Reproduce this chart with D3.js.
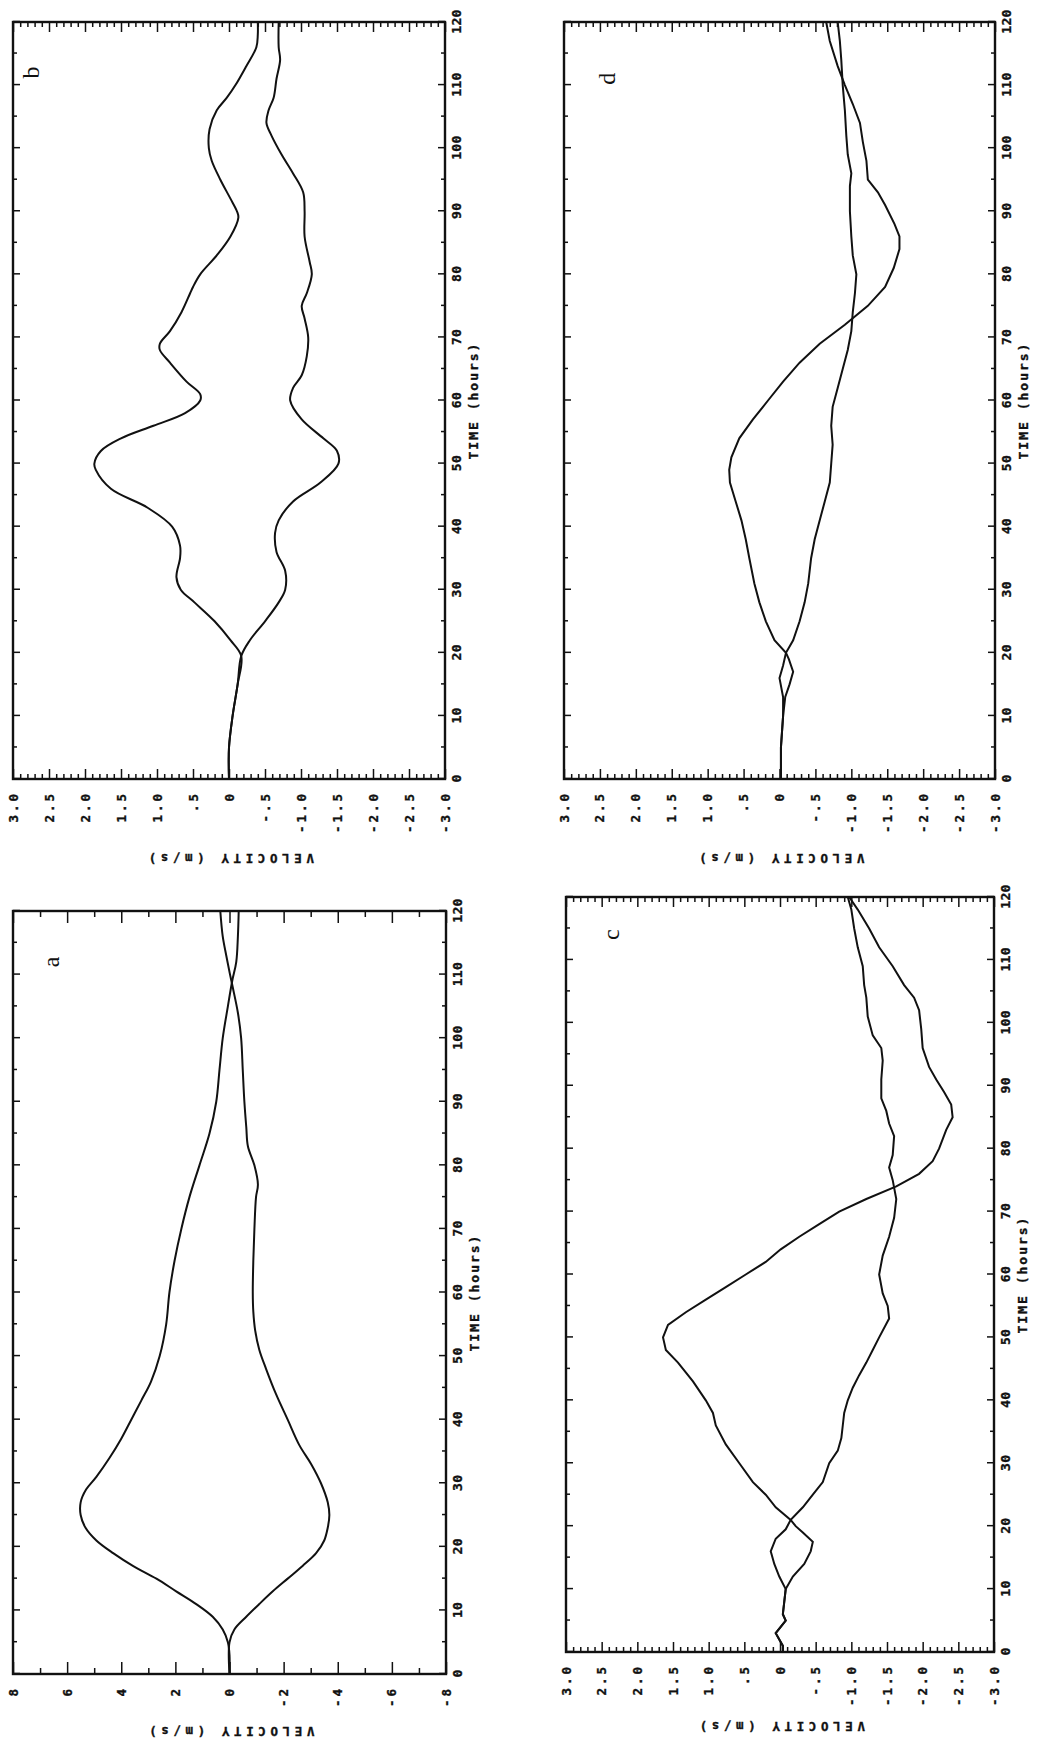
<!DOCTYPE html>
<meta charset="utf-8">
<style>
  body { margin: 0; background: #fff; }
  svg text { font-family: "DejaVu Sans Mono", monospace; font-weight: bold; fill: #111; stroke: #111; stroke-width: 0.35px; }
  .tl text { font-size: 13px; letter-spacing: 0.3px; }
  .vl text { font-size: 12.5px; letter-spacing: 3px; }
  .xlab { font-size: 13px; letter-spacing: 2px; }
  .ylab { font-size: 12.5px; letter-spacing: 4.6px; }
  .letter { font-family: "Liberation Serif", serif !important; font-weight: normal !important; font-size: 24px; stroke-width: 0 !important; }
  .tick line, .minor line { stroke: #111; stroke-width: 1.5; }
  .domain { display: none; }
</style>
<svg width="1038" height="1744"></svg>
<script src="https://d3js.org/d3.v7.min.js"></script>
<script>
// tick labels
var timeTicks = [0, 10, 20, 30, 40, 50, 60, 70, 80, 90, 100, 110, 120];
var velTicks = [3, 2.5, 2, 1.5, 1, 0.5, 0, -0.5, -1, -1.5, -2, -2.5, -3];
var velLabels = ["3.0", "2.5", "2.0", "1.5", "1.0", ".5", "0", "-.5", "-1.0", "-1.5", "-2.0", "-2.5", "-3.0"];
var velTicksA = [8, 6, 4, 2, 0, -2, -4, -6, -8];
var velLabelsA = ["8", "6", "4", "2", "0", "-2", "-4", "-6", "-8"];

// [time (hours), velocity (m/s)]
var aUp = [[0,0],[3,0],[5,0.06],[7,0.25],[9,0.62],[11,1.23],[13,1.97],[15,2.7],[17,3.57],[19,4.3],[21,4.92],[23,5.32],[25,5.5],[27,5.5],[29,5.3],[31,4.92],[34,4.43],[37,4.0],[40,3.63],[43,3.26],[46,2.9],[50,2.58],[55,2.34],[60,2.22],[65,2.03],[70,1.78],[75,1.48],[80,1.11],[85,0.74],[90,0.49],[95,0.37],[100,0.25],[105,0.06],[109,-0.1],[112,-0.25],[116,-0.31],[120,-0.34]];
var aDn = [[0,0],[5,0],[7,-0.18],[9,-0.62],[11,-1.1],[13,-1.6],[15,-2.15],[17,-2.7],[19,-3.2],[21,-3.5],[23,-3.63],[25,-3.69],[27,-3.63],[30,-3.38],[33,-3.02],[36,-2.58],[40,-2.15],[44,-1.72],[48,-1.35],[51,-1.1],[54,-0.95],[57,-0.88],[60,-0.86],[65,-0.88],[70,-0.92],[75,-0.98],[77,-1.05],[80,-0.92],[83,-0.68],[86,-0.62],[90,-0.55],[95,-0.49],[100,-0.43],[104,-0.31],[108,-0.12],[110,-0.02],[113,0.12],[116,0.25],[120,0.34]];

var bUp = [[0,0],[5,0],[10,-0.05],[15,-0.12],[19.5,-0.17],[22,-0.02],[25,0.2],[28,0.48],[30,0.67],[32,0.73],[35,0.68],[37,0.68],[40,0.79],[43,1.13],[46,1.64],[49,1.85],[50,1.87],[52,1.78],[54,1.5],[56,1.05],[58,0.61],[60,0.4],[61,0.4],[63,0.59],[66,0.82],[68,0.96],[69,0.96],[71,0.82],[74,0.66],[77,0.54],[78,0.5],[80,0.4],[83,0.17],[86,-0.02],[89,-0.13],[90,-0.11],[92,-0.02],[95,0.12],[98,0.24],[100,0.28],[103,0.27],[106,0.17],[108,0.03],[110,-0.09],[113,-0.24],[116,-0.38],[118,-0.4],[120,-0.4]];
var bDn = [[0,0],[5,0],[10,-0.05],[15,-0.12],[19.5,-0.17],[22,-0.29],[25,-0.5],[28,-0.69],[30,-0.78],[33,-0.78],[36,-0.66],[39,-0.64],[41,-0.69],[44,-0.89],[47,-1.27],[50,-1.52],[52,-1.5],[54,-1.31],[57,-1.01],[60,-0.85],[62,-0.89],[64,-1.01],[67,-1.08],[70,-1.1],[73,-1.05],[75,-1.01],[77,-1.08],[80,-1.15],[82,-1.12],[86,-1.05],[90,-1.05],[93,-1.03],[96,-0.89],[99,-0.73],[102,-0.59],[104,-0.52],[106,-0.55],[108,-0.62],[111,-0.66],[114,-0.71],[116,-0.69],[120,-0.69]];

var cUp = [[0,-0.04],[1,-0.04],[2,0.01],[3,0.06],[4,-0.01],[5,-0.08],[6,-0.04],[8,-0.06],[10,-0.08],[12,-0.18],[14,-0.34],[16,-0.43],[17.5,-0.46],[19,-0.32],[20,-0.22],[21,-0.15],[23,0.06],[25,0.2],[27,0.38],[30,0.57],[33,0.76],[36,0.9],[38,0.94],[40,1.04],[43,1.22],[46,1.43],[48,1.6],[50,1.64],[52,1.57],[54,1.32],[56,1.04],[58,0.76],[60,0.48],[62,0.2],[64,-0.01],[66,-0.27],[68,-0.55],[70,-0.83],[72,-1.21],[74,-1.63],[76,-1.95],[78,-2.14],[80,-2.23],[83,-2.33],[85,-2.42],[87,-2.4],[89,-2.3],[91,-2.19],[93,-2.09],[96,-2.0],[99,-1.98],[102,-1.95],[104,-1.88],[106,-1.74],[109,-1.58],[112,-1.39],[115,-1.25],[118,-1.09],[120,-0.97]];
var cDn = [[0,-0.04],[1,-0.04],[2,0.01],[3,0.06],[4,-0.01],[5,-0.08],[6,-0.04],[8,-0.06],[10,-0.08],[12,0.01],[14,0.08],[16,0.13],[18,0.06],[19.5,-0.08],[21,-0.15],[23,-0.32],[25,-0.46],[27,-0.6],[30,-0.69],[32,-0.81],[34,-0.86],[36,-0.88],[38,-0.9],[40,-0.95],[42,-1.02],[44,-1.11],[46,-1.21],[48,-1.3],[50,-1.39],[53,-1.53],[55,-1.51],[57,-1.44],[60,-1.39],[63,-1.44],[66,-1.53],[69,-1.6],[72,-1.63],[75,-1.58],[77,-1.53],[79,-1.58],[82,-1.6],[84,-1.53],[86,-1.49],[88,-1.42],[91,-1.42],[94,-1.44],[96,-1.42],[98,-1.3],[101,-1.23],[104,-1.21],[106,-1.18],[109,-1.16],[112,-1.09],[115,-1.04],[118,-1.0],[120,-0.95]];

var dUp = [[0,-0.02],[5,-0.02],[10,-0.05],[13,-0.08],[15,-0.14],[17,-0.19],[19,-0.13],[20,-0.09],[22,0.07],[25,0.19],[28,0.28],[31,0.35],[35,0.42],[38,0.47],[41,0.53],[44,0.61],[47,0.69],[49,0.7],[51,0.67],[54,0.56],[57,0.37],[60,0.16],[63,-0.05],[66,-0.28],[69,-0.56],[72,-0.91],[75,-1.23],[78,-1.47],[81,-1.59],[84,-1.67],[86,-1.67],[88,-1.6],[91,-1.47],[93,-1.37],[95,-1.23],[98,-1.21],[101,-1.16],[104,-1.12],[107,-1.02],[110,-0.91],[113,-0.81],[117,-0.7],[120,-0.65]];
var dDn = [[0,-0.02],[5,-0.02],[10,-0.05],[13,-0.05],[16,0],[18,-0.05],[20,-0.09],[22,-0.19],[25,-0.28],[28,-0.35],[31,-0.4],[35,-0.44],[38,-0.49],[41,-0.56],[44,-0.63],[47,-0.7],[50,-0.72],[53,-0.74],[56,-0.72],[59,-0.74],[62,-0.81],[65,-0.88],[68,-0.95],[71,-1.0],[74,-1.02],[77,-1.05],[80,-1.07],[83,-1.02],[86,-1.0],[90,-0.98],[94,-0.98],[96,-1.0],[99,-0.95],[102,-0.93],[106,-0.91],[110,-0.88],[114,-0.86],[117,-0.84],[120,-0.81]];

var svg = d3.select("svg");

var timeMinor = d3.range(5, 120, 10);
var velMinor = d3.range(-30, 31).filter(function(i) { return i % 5 != 0; }).map(function(i) { return i / 10; });
var velMinorA = [7, 5, 3, 1, -1, -3, -5, -7];

// the figure is printed turned a quarter turn: each panel is drawn upright, then rotated -90
var panels = [
  { letter: "b", left: 13, right: 445, top: 22, bottom: 779, vmax: 3, majors: velTicks, labels: velLabels, minors: velMinor,
    series: [bUp, bDn], curve: d3.curveCatmullRom, lt: 112, lv: 2.76, ylab: 79 },
  { letter: "d", left: 564, right: 995, top: 22, bottom: 779, vmax: 3, majors: velTicks, labels: velLabels, minors: velMinor,
    series: [dUp, dDn], curve: d3.curveLinear, lt: 111, lv: 2.41, ylab: 79 },
  { letter: "a", left: 13, right: 446, top: 911, bottom: 1674, vmax: 8, majors: velTicksA, labels: velLabelsA, minors: velMinorA,
    series: [aUp, aDn], curve: d3.curveCatmullRom, lt: 112, lv: 6.6, ylab: 57 },
  { letter: "c", left: 566, right: 994, top: 897, bottom: 1652, vmax: 3, majors: velTicks, labels: velLabels, minors: velMinor,
    series: [cUp, cDn], curve: d3.curveLinear, lt: 114, lv: 2.37, ylab: 74 }
];

panels.forEach(function(p) {
  var W = p.bottom - p.top, H = p.right - p.left;
  var x = d3.scaleLinear().domain([0, 120]).range([0, W]);
  var y = d3.scaleLinear().domain([p.vmax, -p.vmax]).range([0, H]);
  var big = p.vmax > 3 ? 12 : 10, small = p.vmax > 3 ? 6 : 5;

  var g = svg.append("g")
      .attr("transform", "translate(" + p.left + "," + p.bottom + ") rotate(-90)");

  // time ticks, bottom and top
  g.append("g").attr("class", "minor").attr("transform", "translate(0," + H + ")")
      .call(d3.axisBottom(x).tickValues(timeMinor).tickSize(-4).tickSizeOuter(0).tickFormat(""));
  g.append("g").attr("class", "minor")
      .call(d3.axisTop(x).tickValues(timeMinor).tickSize(-4).tickSizeOuter(0).tickFormat(""));
  g.append("g").attr("class", "minor")
      .call(d3.axisTop(x).tickValues(timeTicks).tickSize(-7).tickSizeOuter(0).tickFormat(""));
  g.append("g").attr("class", "tl").attr("transform", "translate(0," + H + ")")
      .call(d3.axisBottom(x).tickValues(timeTicks).tickSize(-7).tickSizeOuter(0).tickPadding(7));

  // velocity ticks, left and right
  g.append("g").attr("class", "minor")
      .call(d3.axisLeft(y).tickValues(p.minors).tickSize(-small).tickSizeOuter(0).tickFormat(""));
  g.append("g").attr("class", "minor").attr("transform", "translate(" + W + ",0)")
      .call(d3.axisRight(y).tickValues(p.minors).tickSize(-small).tickSizeOuter(0).tickFormat(""));
  g.append("g").attr("class", "minor").attr("transform", "translate(" + W + ",0)")
      .call(d3.axisRight(y).tickValues(p.majors).tickSize(-big).tickSizeOuter(0).tickFormat(""));
  g.append("g").attr("class", "vl")
      .call(d3.axisLeft(y).tickValues(p.majors).tickSize(-big).tickSizeOuter(0).tickPadding(12)
        .tickFormat(function(d, i) { return p.labels[i]; }));

  g.append("rect").attr("width", W).attr("height", H)
      .attr("fill", "none").attr("stroke", "#111").attr("stroke-width", 2.4);

  var line = d3.line().curve(p.curve)
      .x(function(d) { return x(d[0]); })
      .y(function(d) { return y(d[1]); });
  g.selectAll(".curve").data(p.series).enter().append("path")
      .attr("class", "curve")
      .attr("d", line)
      .attr("fill", "none").attr("stroke", "#111").attr("stroke-width", 2);

  g.append("text").attr("class", "xlab")
      .attr("x", x(60)).attr("y", H + 33)
      .attr("text-anchor", "middle")
      .text("TIME (hours)");

  g.append("text").attr("class", "ylab")
      .attr("transform", "translate(" + (-(p.ylab - 4.5)) + "," + (H / 2) + ") rotate(-90)")
      .attr("text-anchor", "middle")
      .text("VELOCITY (m/s)");

  g.append("text").attr("class", "letter")
      .attr("x", x(p.lt)).attr("y", y(p.lv)).attr("dy", "0.35em")
      .attr("text-anchor", "middle")
      .text(p.letter);
});
</script>
